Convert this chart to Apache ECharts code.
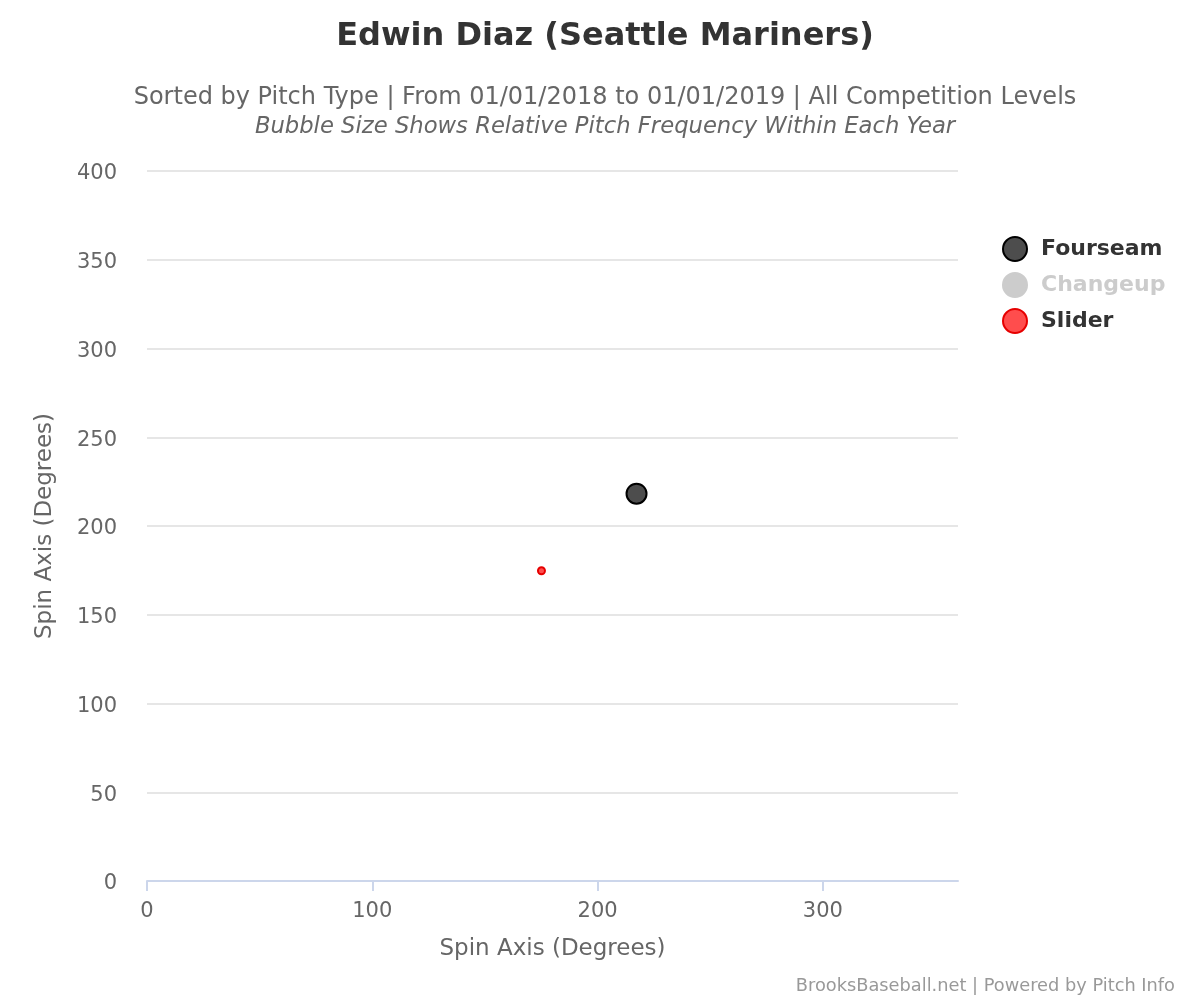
<!DOCTYPE html>
<html>
<head>
<meta charset="utf-8">
<script src="https://cdn.jsdelivr.net/npm/echarts@6/dist/echarts.min.js"></script>
<style>html,body{margin:0;padding:0;background:#fff}#c{width:1200px;height:1000px}</style>
</head>
<body>
<div id="c"></div>
<script>
var seriesNames = ['Fourseam', 'Changeup', 'Slider'];
// [spin axis x, spin axis y, relative frequency]
var fourseamData = [[217.3, 218.2, 0.62]];
var changeupData = [];
var sliderData = [[175.1, 174.8, 0.30]];
var xTicks = [0, 100, 200, 300];
var yTicks = [0, 50, 100, 150, 200, 250, 300, 350, 400];

var allZ = fourseamData.concat(changeupData, sliderData).map(function (d) { return d[2]; });
var zMin = Math.min.apply(null, allZ), zMax = Math.max.apply(null, allZ);
function bubbleSize(d) {
  var t = zMax === zMin ? 1 : (d[2] - zMin) / (zMax - zMin);
  return 7 + t * 13;
}
var font = 'DejaVu Sans';
var chart = echarts.init(document.getElementById('c'));
chart.setOption({
  animation: false,
  backgroundColor: '#ffffff',
  textStyle: { fontFamily: font },
  title: [
    { text: 'Edwin Diaz (Seattle Mariners)', left: 600, textAlign: 'center', top: 16,
      textStyle: { fontFamily: font, fontSize: 32, fontWeight: 'bold', color: '#333333' } },
    { text: 'Sorted by Pitch Type | From 01/01/2018 to 01/01/2019 | All Competition Levels', left: 600, textAlign: 'center', top: 81,
      textStyle: { fontFamily: font, fontSize: 24, fontWeight: 'normal', color: '#666666' } },
    { text: 'Bubble Size Shows Relative Pitch Frequency Within Each Year', left: 600, textAlign: 'center', top: 111,
      textStyle: { fontFamily: font, fontSize: 22.7, fontWeight: 'normal', fontStyle: 'italic', color: '#666666' } },
    { text: 'BrooksBaseball.net | Powered by Pitch Info', right: 20, top: 972,
      textStyle: { fontFamily: font, fontSize: 17.8, fontWeight: 'normal', color: '#999999' } }
  ],
  legend: {
    orient: 'vertical', left: 1002, top: 236, padding: 0, itemWidth: 24, itemHeight: 24, itemGap: 10,
    icon: 'circle',
    selected: { 'Changeup': false },
    inactiveColor: '#cccccc',
    inactiveBorderColor: '#cccccc',
    textStyle: { fontFamily: font, fontSize: 22, fontWeight: 'bold', color: '#333333', padding: [0, 0, 0, 9] },
    data: seriesNames
  },
  grid: { left: 147, right: 242, top: 171, bottom: 119 },
  xAxis: {
    type: 'value', min: 0, max: 360, interval: 100,
    name: 'Spin Axis (Degrees)', nameLocation: 'middle', nameGap: 57,
    nameTextStyle: { fontFamily: font, fontSize: 23, color: '#666666' },
    axisLine: { show: true, lineStyle: { color: '#ccd6eb', width: 2 } },
    axisTick: { show: true, length: 10, customValues: xTicks, lineStyle: { color: '#ccd6eb', width: 2 } },
    axisLabel: { fontFamily: font, fontSize: 21, color: '#666666', margin: 20,
      customValues: xTicks, formatter: function (v) { return xTicks.indexOf(v) >= 0 ? String(v) : ''; } },
    splitLine: { show: false }
  },
  yAxis: {
    type: 'value', min: 0, max: 400, interval: 50,
    name: 'Spin Axis (Degrees)', nameLocation: 'middle', nameGap: 90, nameRotate: 90,
    nameTextStyle: { fontFamily: font, fontSize: 23, color: '#666666' },
    axisLine: { show: false }, axisTick: { show: false },
    axisLabel: { fontFamily: font, fontSize: 21, color: '#666666', margin: 30,
      formatter: function (v) { return yTicks.indexOf(v) >= 0 ? '{a|' + v + '}' : ''; },
      rich: { a: { fontFamily: font, fontSize: 21, color: '#666666', padding: [6, 0, 0, 0] } } },
    splitLine: { show: true, lineStyle: { color: '#e6e6e6', width: 2 } }
  },
  series: [
    { name: 'Fourseam', type: 'scatter', data: fourseamData, symbolSize: bubbleSize,
      itemStyle: { color: '#4d4d4d', borderColor: '#000000', borderWidth: 2, opacity: 1 } },
    { name: 'Changeup', type: 'scatter', data: changeupData, symbolSize: bubbleSize,
      itemStyle: { color: '#cccccc', borderColor: '#999999', borderWidth: 2, opacity: 1 } },
    { name: 'Slider', type: 'scatter', data: sliderData, symbolSize: bubbleSize,
      itemStyle: { color: '#ff4d4d', borderColor: '#e60000', borderWidth: 2, opacity: 1 } }
  ]
});
</script>
</body>
</html>
